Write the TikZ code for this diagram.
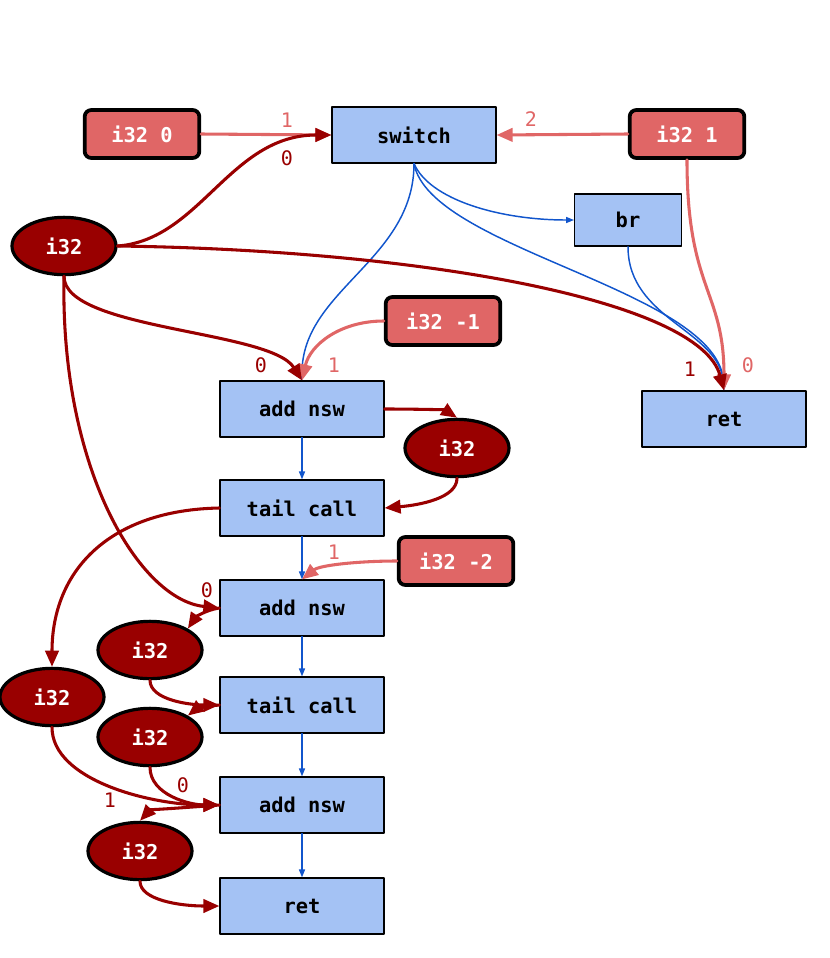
\documentclass[tikz,border=0pt]{standalone}
\usepackage{fontspec}
\setmonofont{DejaVu Sans Mono}
\usetikzlibrary{arrows.meta,shapes.geometric}
\definecolor{opblue}{HTML}{A4C2F4}
\definecolor{ctlblue}{HTML}{1155CC}
\definecolor{cstred}{HTML}{E06666}
\definecolor{valred}{HTML}{990000}

\begin{document}
\begin{tikzpicture}[x=0.75pt, y=-0.75pt, line join=round, line cap=round,
	font=\ttfamily\bfseries\fontsize{15.3}{18}\selectfont,
	op/.style={draw, line width=0.9pt, fill=opblue, minimum width=123pt, minimum height=42pt},
	cst/.style={draw, line width=2.8pt, rounded corners=5pt, fill=cstred, text=white, minimum width=86pt, minimum height=36pt},
	val/.style={ellipse, draw, line width=2.4pt, fill=valred, text=white, minimum width=78pt, minimum height=43pt},
	dep/.style={valred, line width=2.3pt, -{Triangle[length=12pt,width=10pt]}},
	use/.style={cstred, line width=2.3pt, -{Triangle[length=12pt,width=10pt]}},
	ctl/.style={ctlblue, line width=1.1pt, -{Triangle[length=6pt,width=4.5pt]}},
	lbl/.style={font=\ttfamily\fontsize{15}{17}\selectfont}]
	\useasboundingbox (0,0) rectangle (830,958);
	% nodes
	\node[cst] (c0) at (142,134) {i32 0};
	\node[op] (sw) at (414,135) {switch};
	\node[cst] (c1) at (687,134) {i32 1};
	\node[op, minimum width=80pt, minimum height=39pt] (br) at (628,220) {br};
	\node[val] (arg) at (64,246) {i32};
	\node[cst] (cm1) at (443,321) {i32 -1};
	\node[op] (ret) at (724,419) {ret};
	\node[op] (add1) at (302,409) {add nsw};
	\node[val] (v1) at (457,448) {i32};
	\node[op] (call1) at (302,508) {tail call};
	\node[cst] (cm2) at (456,561) {i32 -2};
	\node[op] (add2) at (302,608) {add nsw};
	\node[val] (v2) at (150,650) {i32};
	\node[val] (v3) at (52,697) {i32};
	\node[op] (call2) at (302,705) {tail call};
	\node[val] (v4) at (150,737) {i32};
	\node[op] (add3) at (302,805) {add nsw};
	\node[val] (v5) at (140,851) {i32};
	\node[op] (ret2) at (302,906) {ret};
	% control flow
	\draw[ctl] (sw.south) .. controls (430,200) and (500,220) .. (br.west);
	\draw[ctl] (sw.south) .. controls (430,250) and (720,290) .. (ret.north);
	\draw[ctl] (br.south) .. controls (628,320) and (720,330) .. (ret.north);
	\draw[ctl] (sw.south) .. controls (414,260) and (302,290) .. (add1.north);
	\draw[ctl] (add1) -- (call1);
	\draw[ctl] (call1) -- (add2);
	\draw[ctl] (add2) -- (call2);
	\draw[ctl] (call2) -- (add3);
	\draw[ctl] (add3) -- (ret2);
	% constants
	\draw[use] (c0.east) -- (sw.west);
	\draw[use] (c1.west) -- (sw.east);
	\draw[use] (c1.south) .. controls (687,290) and (724,290) .. (ret.north);
	\draw[use] (cm1.west) .. controls (340,321) and (310,345) .. (add1.north);
	\draw[use] (cm2.west) .. controls (360,561) and (320,565) .. (add2.north);
	% values
	\draw[dep] (arg.east) .. controls (200,240) and (230,135) .. (sw.west);
	\draw[dep] (arg.east) .. controls (420,250) and (700,300) .. (ret.north);
	\draw[dep] (arg.south) .. controls (64,330) and (270,330) .. (add1.north);
	\draw[dep] (arg.south) .. controls (60,470) and (140,600) .. (add2.west);
	\draw[dep] (add1.east) .. controls (420,409) and (445,410) .. (v1.north);
	\draw[dep] (v1.south) .. controls (457,498) and (420,505) .. (call1.east);
	\draw[dep] (call1.west) .. controls (110,510) and (52,570) .. (v3.north);
	\draw[dep] (add2.west) .. controls (205,610) and (195,618) .. (v2.north east);
	\draw[dep] (v2.south) .. controls (150,700) and (190,705) .. (call2.west);
	\draw[dep] (call2.west) .. controls (205,706) and (195,710) .. (v4.north east);
	\draw[dep] (v4.south) .. controls (150,795) and (190,805) .. (add3.west);
	\draw[dep] (v3.south) .. controls (52,780) and (150,805) .. (add3.west);
	\draw[dep] (add3.west) .. controls (180,808) and (150,810) .. (v5.north);
	\draw[dep] (v5.south) .. controls (140,900) and (180,906) .. (ret2.west);
	% operand numbers
	\node[lbl, cstred] (n1) at (287,120) {1};
	\node[lbl, valred] (n2) at (287,158) {0};
	\node[lbl, cstred] (n3) at (531,119) {2};
	\node[lbl, valred] (n4) at (690,369) {1};
	\node[lbl, cstred] (n5) at (748,365) {0};
	\node[lbl, valred] (n6) at (261,365) {0};
	\node[lbl, cstred] (n7) at (334,365) {1};
	\node[lbl, cstred] (n8) at (334,552) {1};
	\node[lbl, valred] (n9) at (207,590) {0};
	\node[lbl, valred] (n10) at (183,785) {0};
	\node[lbl, valred] (n11) at (110,800) {1};
\end{tikzpicture}
\end{document}
